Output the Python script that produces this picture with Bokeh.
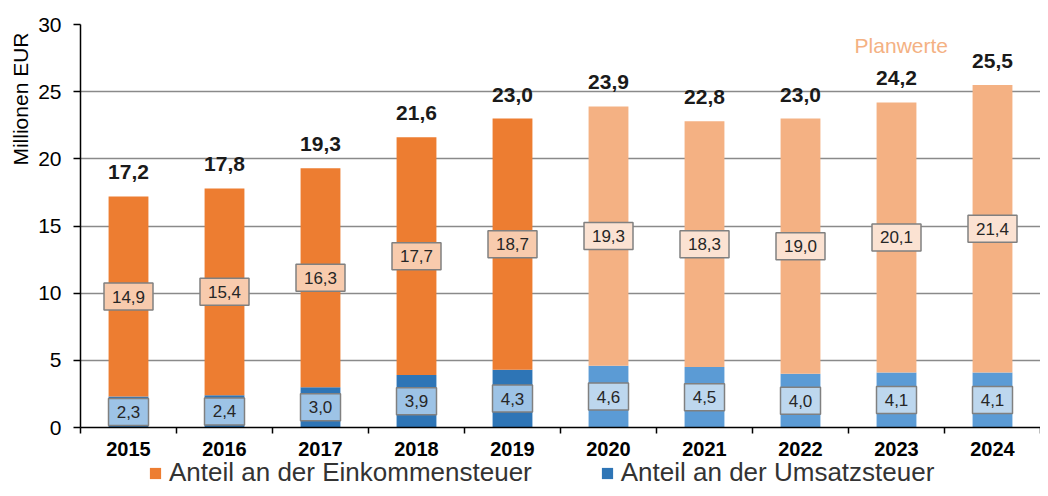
from bokeh.plotting import figure
from bokeh.layouts import column
from bokeh.models import (ColumnDataSource, FixedTicker, Range1d, Legend, LegendItem, Title)
from bokeh.core.properties import value
from bokeh.embed import file_html
from bokeh.resources import INLINE

# ---- data ----
years = ["2015", "2016", "2017", "2018", "2019", "2020", "2021", "2022", "2023", "2024"]
einkommensteuer = [14.9, 15.4, 16.3, 17.7, 18.7, 19.3, 18.3, 19.0, 20.1, 21.4]
umsatzsteuer = [2.3, 2.4, 3.0, 3.9, 4.3, 4.6, 4.5, 4.0, 4.1, 4.1]
totals = [17.2, 17.8, 19.3, 21.6, 23.0, 23.9, 22.8, 23.0, 24.2, 25.5]
is_plan = [False, False, False, False, False, True, True, True, True, True]
series_names = ["Anteil an der Einkommensteuer", "Anteil an der Umsatzsteuer"]

FONT = "Liberation Sans"
fmt = lambda v: f"{v:.1f}".replace(".", ",")

ORANGE, ORANGE_PLAN = "#ED7D31", "#F4B183"
BLUE, BLUE_PLAN = "#2E75B6", "#5B9BD5"

x = [i + 0.5 for i in range(len(years))]
src = ColumnDataSource(dict(
    x=x,
    est=einkommensteuer,
    ust=umsatzsteuer,
    top=[e + u for e, u in zip(einkommensteuer, umsatzsteuer)],
    tot=totals,
    est_mid=[u + e / 2 for e, u in zip(einkommensteuer, umsatzsteuer)],
    ust_mid=[u / 2 for u in umsatzsteuer],
    est_lbl=[fmt(v) for v in einkommensteuer],
    ust_lbl=[fmt(v) for v in umsatzsteuer],
    tot_lbl=[fmt(v) for v in totals],
    c_est=[ORANGE_PLAN if p else ORANGE for p in is_plan],
    c_ust=[BLUE_PLAN if p else BLUE for p in is_plan],
    c_est_box=["#FBE2D2" if p else "#F8CBAD" for p in is_plan],
    c_ust_box=["#BDD7EE" if p else "#9DC3E6" for p in is_plan],
))

p = figure(width=1040, height=458, output_backend="svg", toolbar_location=None,
           x_range=Range1d(0, len(years)), y_range=Range1d(0, 30),
           min_border_left=80, min_border_right=0, min_border_top=24,
           min_border_bottom=30)
p.outline_line_color = None
p.background_fill_color = "white"
p.xgrid.grid_line_color = None
p.ygrid.grid_line_color = "#8A8A8A"
p.ygrid.grid_line_width = 1.5

# y axis label placed at the top of the axis
ylab = Title(text="Millionen EUR", align="right", offset=8,
             text_font=FONT, text_font_size="21px", text_font_style="normal",
             text_color="#000000", standoff=8)
p.add_layout(ylab, "left")

# y axis
p.yaxis.ticker = FixedTicker(ticks=[0, 5, 10, 15, 20, 25, 30])
p.yaxis.major_label_text_font = FONT
p.yaxis.major_label_text_font_size = "21px"
p.yaxis.major_label_text_color = "#000000"
p.yaxis.axis_line_color = "black"
p.yaxis.axis_line_width = 1.5
p.yaxis.major_tick_line_color = "black"
p.yaxis.major_tick_line_width = 1.5
p.yaxis.major_tick_out = 7
p.yaxis.major_tick_in = 0
p.yaxis.minor_tick_line_color = None
p.yaxis.major_label_standoff = 12

# x axis
p.xaxis.ticker = FixedTicker(ticks=x, minor_ticks=list(range(len(years) + 1)))
p.xaxis.major_label_overrides = {xx: y for xx, y in zip(x, years)}
p.xaxis.major_label_text_font = FONT
p.xaxis.major_label_text_font_style = "bold"
p.xaxis.major_label_text_font_size = "20px"
p.xaxis.major_label_text_color = "#000000"
p.xaxis.axis_line_color = "black"
p.xaxis.axis_line_width = 1.5
p.xaxis.major_tick_line_color = None
p.xaxis.major_tick_out = 0
p.xaxis.minor_tick_line_color = "black"
p.xaxis.minor_tick_line_width = 1.5
p.xaxis.minor_tick_out = 6
p.xaxis.minor_tick_in = 0
p.xaxis.major_label_standoff = 8

W = 0.415
p.vbar(x="x", bottom=0, top="ust", width=W, source=src,
       fill_color="c_ust", line_color=None)
p.vbar(x="x", bottom="ust", top="top", width=W, source=src,
       fill_color="c_est", line_color=None)

# value boxes
p.rect(x="x", y="ust_mid", width=40, height=27, width_units="screen",
       height_units="screen", source=src, fill_color="c_ust_box",
       line_color="#808080", line_width=1.5)
p.text(x="x", y="ust_mid", text="ust_lbl", source=src, text_align="center",
       text_baseline="middle", text_font=value(FONT), text_font_size="17px",
       text_color="#262626")
p.rect(x="x", y="est_mid", width=49, height=27, width_units="screen",
       height_units="screen", source=src, fill_color="c_est_box",
       line_color="#808080", line_width=1.5)
p.text(x="x", y="est_mid", text="est_lbl", source=src, text_align="center",
       text_baseline="middle", text_font=value(FONT), text_font_size="17px",
       text_color="#262626")

# totals
p.text(x="x", y="tot", text="tot_lbl", source=src, text_align="center",
       text_baseline="middle", y_offset=-24, text_font=value(FONT),
       text_font_size="21px", text_font_style="bold", text_color="#1a1a1a")

# Planwerte note
p.text(x=[8.55], y=[28.4], text=["Planwerte"], text_align="center",
       text_baseline="middle", text_font=value(FONT), text_font_size="21px",
       text_color=ORANGE_PLAN)

# ---- legend strip below the chart ----
lg = figure(width=1040, height=30, output_backend="svg", toolbar_location=None,
            x_range=Range1d(0, 1), y_range=Range1d(0, 1),
            min_border=0, min_border_left=80, min_border_right=0,
            min_border_top=0, min_border_bottom=0)
lg.axis.visible = False
lg.grid.visible = False
lg.outline_line_color = None
g1 = lg.vbar(x=[-10], top=[-10], width=0.1, fill_color=ORANGE, line_color=None)
g2 = lg.vbar(x=[-10], top=[-10], width=0.1, fill_color=BLUE, line_color=None)
legend = Legend(items=[
    LegendItem(label=series_names[0], renderers=[g1]),
    LegendItem(label=series_names[1], renderers=[g2]),
], orientation="horizontal", location=(68, 0))
legend.label_text_font = FONT
legend.label_text_font_size = "26px"
legend.label_text_color = "#333333"
legend.label_height = 29
legend.glyph_width = 14
legend.glyph_height = 14
legend.label_standoff = 7
legend.spacing = 68
legend.padding = 0
legend.margin = 0
legend.border_line_color = None
legend.background_fill_alpha = 0
lg.add_layout(legend, "center")

layout = column(p, lg, spacing=0)
open("out.html", "w").write(file_html(layout, INLINE))
